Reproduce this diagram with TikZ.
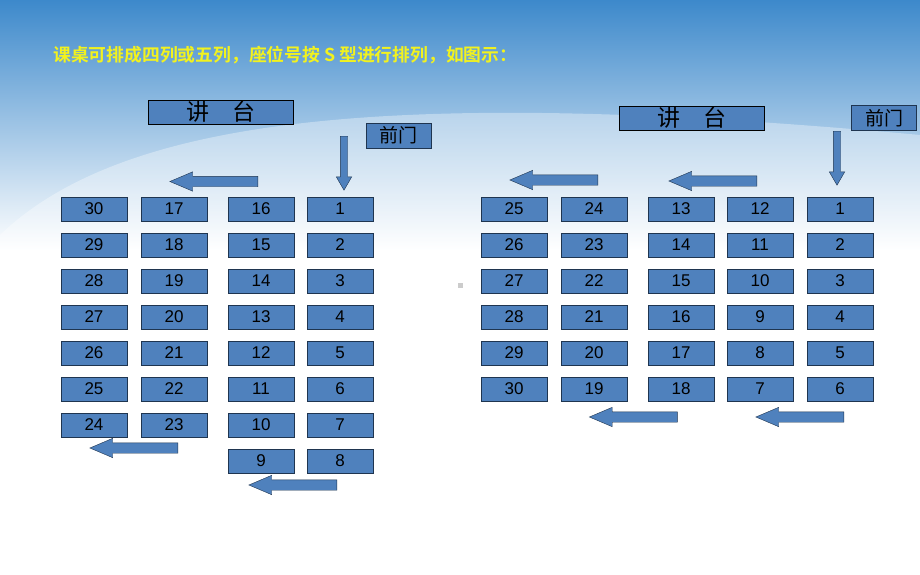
\documentclass[tikz,border=0pt]{standalone}
\usepackage{fontspec}
\setmainfont{Liberation Sans}
\newfontfamily\cjkfont{Noto Sans CJK SC}
\newfontfamily\cjkbold{Noto Sans CJK SC Bold}
\usetikzlibrary{shapes.arrows,positioning,fadings}

\definecolor{seatblue}{HTML}{4F81BD}
\definecolor{seatedge}{HTML}{1F3550}
\definecolor{skytop}{HTML}{3D89CB}
\definecolor{skymid}{HTML}{80BCE6}
\definecolor{titleyellow}{HTML}{F2F21E}

\tikzset{
  seat/.style={draw=seatedge, fill=seatblue, minimum width=66pt, minimum height=24pt,
               inner sep=0pt, font=\fontsize{17}{17}\selectfont},
  stage/.style={draw=black, fill=seatblue, minimum width=145pt, minimum height=24pt,
                inner sep=0pt, font=\cjkfont\fontsize{23}{23}\selectfont},
  door/.style={draw=seatedge, fill=seatblue, minimum width=65pt, minimum height=25pt,
               inner sep=0pt, font=\cjkfont\fontsize{19}{19}\selectfont},
  harrow/.style={single arrow, draw=seatedge, fill=seatblue, inner sep=0pt,
                 text height=10pt, text depth=0pt, text width=0pt,
                 single arrow head extend=4.5pt, single arrow tip angle=46,
                 shape border rotate=180, minimum height=88pt},
  varrow/.style={single arrow, draw=seatedge, fill=seatblue, inner sep=0pt,
                 text height=7pt, text depth=0pt, text width=0pt,
                 single arrow head extend=4pt, single arrow tip angle=60,
                 rotate=-90, minimum height=54pt}
}

\begin{document}
\begin{tikzpicture}[x=1pt,y=-1pt]

\useasboundingbox (0,0) rectangle (920,575);

% background
\fill[white] (0,0) rectangle (920,575);
\shade[top color=skytop, middle color=skymid, bottom color=white] (0,0) rectangle (920,250);
\fill[white, opacity=0.35] (0,235) .. controls (120,120) and (380,85) .. (920,135) -- (920,250) -- (0,250) -- cycle;
\fill[black!20] (458,283) rectangle (463,288);

% title
\node[anchor=west, text=titleyellow, font=\cjkbold\fontsize{17.8}{18}\selectfont, inner sep=0pt]
  (title) at (53,55) {课桌可排成四列或五列，座位号按 S 型进行排列，如图示：};

%%% four columns
\node[stage] (stageL) at (220.5,112) {讲\hspace{1em}台};
\node[door] (doorL) at (398.5,135.5) {前门};

\foreach \n [count=\r] in {1,2,3,4,5,6,7,8}
  \node[seat] (L4-\r) at ({340},{173+36*\r}) {\n};
\foreach \n [count=\r] in {16,15,14,13,12,11,10,9}
  \node[seat] (L3-\r) at ({261},{173+36*\r}) {\n};
\foreach \n [count=\r] in {17,18,19,20,21,22,23}
  \node[seat] (L2-\r) at ({174},{173+36*\r}) {\n};
\foreach \n [count=\r] in {30,29,28,27,26,25,24}
  \node[seat] (L1-\r) at ({94},{173+36*\r}) {\n};

% arrows show the order of seats
\node[varrow] (downL) at (344,160) {};
\node[harrow] (topL) at (220,181.5) {};
\node[harrow] (botL1) at (140,448) {};
\node[harrow] (botL2) at (299,485) {};

%%% five columns
\node[stage] (stageR) at (691.5,118) {讲\hspace{1em}台};
\node[door] (doorR) at (884,118) {前门};

\foreach \n [count=\r] in {1,2,3,4,5,6}
  \node[seat] (R5-\r) at ({840},{173+36*\r}) {\n};
\foreach \n [count=\r] in {12,11,10,9,8,7}
  \node[seat] (R4-\r) at ({760},{173+36*\r}) {\n};
\foreach \n [count=\r] in {13,14,15,16,17,18}
  \node[seat] (R3-\r) at ({681},{173+36*\r}) {\n};
\foreach \n [count=\r] in {24,23,22,21,20,19}
  \node[seat] (R2-\r) at ({594},{173+36*\r}) {\n};
\foreach \n [count=\r] in {25,26,27,28,29,30}
  \node[seat] (R1-\r) at ({514},{173+36*\r}) {\n};

\node[varrow] (downR) at (837,155) {};
\node[harrow] (topR1) at (560,180) {};
\node[harrow] (topR2) at (719,181) {};
\node[harrow] (botR1) at (639.5,417) {};
\node[harrow] (botR2) at (806,417) {};

\end{tikzpicture}
\end{document}
